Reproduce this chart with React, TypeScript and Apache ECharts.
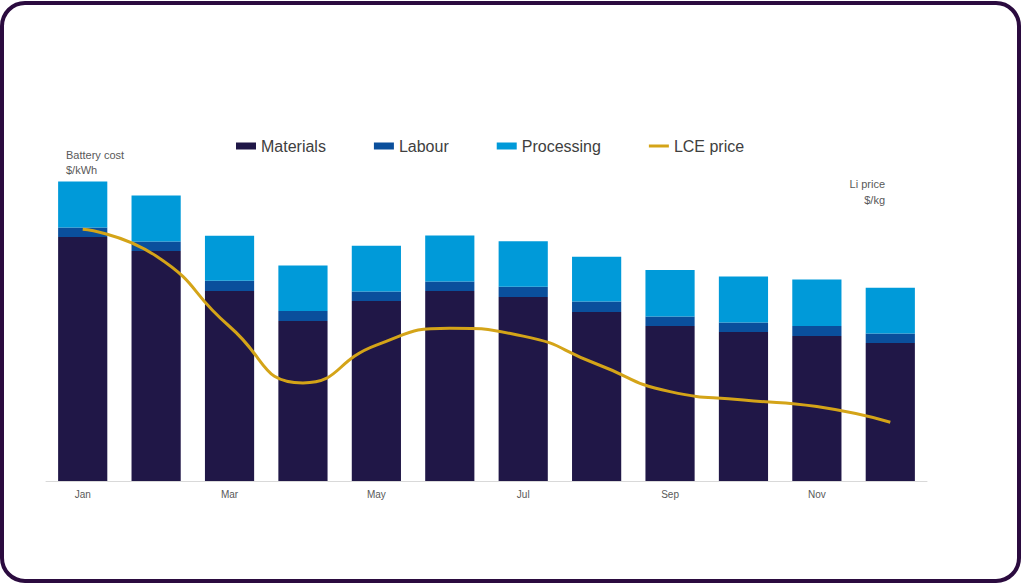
import React, { useEffect, useRef } from "react";
import * as echarts from "echarts";

const months = ["Jan", "Feb", "Mar", "Apr", "May", "Jun", "Jul", "Aug", "Sep", "Oct", "Nov", "Dec"];
const materials = [122, 115, 95, 80, 90, 95, 92, 84.5, 77.5, 74.5, 72.5, 69];
const labour = [4.7, 4.8, 5.1, 5.0, 4.8, 4.7, 5.1, 5.3, 4.7, 4.8, 5.0, 4.8];
const processing = [23, 23, 22.5, 22.8, 22.8, 23, 22.8, 22.3, 23.3, 23, 23.2, 22.8];
const lcePrice = [83.9, 75, 51.5, 32.7, 45.3, 50.9, 48.3, 39, 29.8, 27, 24.8, 19.6];

const FONT = "'Liberation Sans', Arial, sans-serif";

export default function App() {
  const ref = useRef<HTMLDivElement>(null);
  useEffect(() => {
    if (!ref.current) return;
    document.body.style.margin = "0";
    const chart = echarts.init(ref.current, undefined, { renderer: "svg" });
    chart.setOption({
      animation: false,
      backgroundColor: "transparent",
      textStyle: { fontFamily: FONT },
      legend: {
        left: 231,
        top: 133,
        itemGap: 48,
        itemWidth: 20,
        itemHeight: 7,
        textStyle: { fontSize: 16, color: "#404040", fontFamily: FONT },
        data: [
          { name: "Materials", icon: "rect" },
          { name: "Labour", icon: "rect" },
          { name: "Processing", icon: "rect" },
          { name: "LCE price", icon: "path://M0,0H20V3H0Z", itemStyle: { color: "#d4a418" } },
        ],
      },
      grid: { left: 46, right: 94, top: 181, bottom: 102, containLabel: false },
      xAxis: {
        type: "category",
        data: months,
        axisLine: { show: true, lineStyle: { color: "#d9d9d9", width: 1 } },
        axisTick: { show: false },
        axisLabel: { interval: 1, fontSize: 10, color: "#595959", margin: 8, fontFamily: FONT },
      },
      yAxis: [
        { type: "value", min: 0, max: 150, show: false, splitLine: { show: false } },
        { type: "value", min: 0, max: 100, show: false, splitLine: { show: false } },
      ],
      graphic: [
        {
          type: "text",
          left: 66,
          top: 147,
          style: {
            text: "Battery cost\n$/kWh",
            font: `11px ${FONT}`,
            fill: "#595959",
            lineHeight: 15,
          },
        },
        {
          type: "text",
          right: 136,
          top: 178,
          style: { text: "Li price", font: `11px ${FONT}`, fill: "#595959" },
        },
        {
          type: "text",
          right: 136,
          top: 194,
          style: { text: "$/kg", font: `11px ${FONT}`, fill: "#595959" },
        },
      ],
      series: [
        {
          name: "Materials",
          type: "bar",
          stack: "cost",
          data: materials,
          barCategoryGap: "33%",
          itemStyle: { color: "#201747" },
        },
        {
          name: "Labour",
          type: "bar",
          stack: "cost",
          data: labour,
          itemStyle: { color: "#0a4f9c" },
        },
        {
          name: "Processing",
          type: "bar",
          stack: "cost",
          data: processing,
          itemStyle: { color: "#009ad9" },
        },
        {
          name: "LCE price",
          type: "line",
          yAxisIndex: 1,
          data: lcePrice,
          smooth: 0.55,
          symbol: "none",
          showSymbol: false,
          lineStyle: { color: "#d4a418", width: 3 },
          itemStyle: { color: "#d4a418" },
        },
      ],
    });
    return () => chart.dispose();
  }, []);

  return (
    <div style={{ position: "fixed", left: 0, top: 0, width: 1021, height: 583, background: "#fff" }}>
      <div
        style={{
          position: "absolute",
          left: 0,
          top: 1,
          width: 1021,
          height: 582,
          boxSizing: "border-box",
          border: "4px solid #2b0b3f",
          borderRadius: 25,
        }}
      />
      <div ref={ref} style={{ position: "absolute", left: 0, top: 0, width: 1021, height: 583 }} />
    </div>
  );
}
